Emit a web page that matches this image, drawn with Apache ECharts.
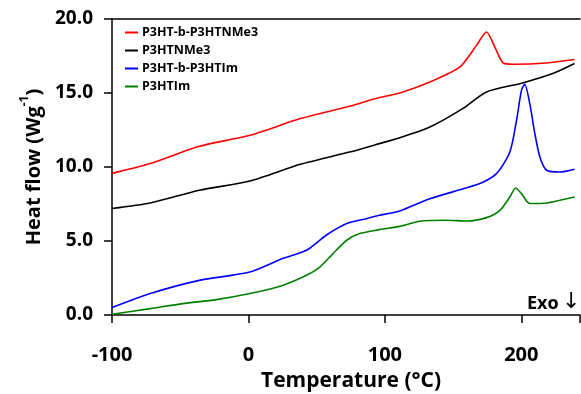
<!DOCTYPE html>
<html>
<head>
<meta charset="utf-8">
<script src="https://cdn.jsdelivr.net/npm/echarts@6/dist/echarts.min.js"></script>
<style>
  html, body { margin: 0; padding: 0; background: #fff; }
  #chart { width: 581px; height: 394px; }
</style>
</head>
<body>
<div id="chart"></div>
<script>
// 图例名称
const seriesNames = ['P3HT-b-P3HTNMe3', 'P3HTNMe3', 'P3HT-b-P3HTIm', 'P3HTIm'];

// [temperature (°C), heat flow (W/g)]
const redData = [
  [-100, 9.57], [-72, 10.23], [-36, 11.4], [1, 12.14], [38, 13.27], [74, 14.1],
  [96, 14.69], [111, 15.0], [133, 15.74], [155, 16.76], [167, 18.2], [174.5, 19.12],
  [180.6, 18.1], [186.7, 17.03], [194, 16.94], [218.5, 17.03], [239, 17.26]
];
const blackData = [
  [-100, 7.2], [-72, 7.57], [-36, 8.43], [1, 9.05], [38, 10.18], [74, 11.01],
  [96, 11.58], [111, 11.98], [133, 12.7], [157, 13.94], [174.5, 15.07],
  [201, 15.68], [223, 16.31], [239, 16.99]
];
const blueData = [
  [-100, 0.5], [-72, 1.45], [-36, 2.34], [1, 2.9], [25, 3.81], [42.5, 4.37],
  [57, 5.39], [72, 6.18], [86.5, 6.51], [96, 6.74], [111, 7.03], [133, 7.86],
  [169.6, 8.88], [181.8, 9.55], [191.6, 11.01], [196.5, 13.16], [200.1, 15.18],
  [202.5, 15.59], [206.2, 14.28], [209.9, 12.26], [213.6, 10.68], [218.5, 9.78],
  [228.2, 9.66], [239, 9.85]
];
const greenData = [
  [-100, 0.05], [-72, 0.43], [-48, 0.77], [-23.5, 1.04], [1, 1.45], [25, 2.0],
  [42.5, 2.68], [52.3, 3.24], [62, 4.15], [72, 5.05], [81.5, 5.5], [96, 5.77],
  [111, 5.99], [125.6, 6.33], [145, 6.4], [160, 6.35], [174.5, 6.58], [184.3, 7.07],
  [191.6, 7.97], [195.8, 8.58], [200.1, 8.2], [206.2, 7.53], [218.5, 7.57],
  [228.2, 7.75], [239, 7.97]
];

const xTicks = [-100, 0, 100, 200];

const colors = ['#ff0000', '#000000', '#0000ff', '#008000'];
const allData = [redData, blackData, blueData, greenData];
const FONT = 'Open Sans';

const chart = echarts.init(document.getElementById('chart'));
var option = {
  animation: false,
  grid: { left: 112, right: 1, top: 19, bottom: 79, outerBoundsMode: 'none', containLabel: false },
  legend: {
    orient: 'vertical',
    left: 120,
    top: 21,
    icon: 'rect',
    itemWidth: 13,
    itemHeight: 2,
    itemGap: 5,
    data: seriesNames,
    textStyle: { fontFamily: FONT, fontWeight: 'bold', fontSize: 12.5, color: '#000', padding: [0, 0, 0, -1] }
  },
  xAxis: [{
    type: 'value',
    min: -100,
    max: 243,
    interval: 100,
    name: 'Temperature (°C)',
    nameLocation: 'middle',
    nameGap: 56,
    nameTextStyle: { fontFamily: FONT, fontWeight: 'bold', fontSize: 21, color: '#000', padding: [0, 0, 0, 10] },
    axisLine: { lineStyle: { color: '#000', width: 1.5 } },
    axisTick: { length: 8, lineStyle: { color: '#000', width: 1.5 } },
    axisLabel: {
      margin: 30,
      fontFamily: FONT, fontWeight: 'bold', fontSize: 20, color: '#000',
      customValues: xTicks
    },
    splitLine: { show: false }
  }, {
    type: 'value',
    position: 'top',
    min: -100,
    max: 243,
    axisLine: { show: true, lineStyle: { color: '#000', width: 1.5 } },
    axisTick: { show: false },
    axisLabel: { show: false },
    splitLine: { show: false }
  }],
  yAxis: {
    type: 'value',
    min: 0,
    max: 20,
    interval: 5,
    name: '{t|Heat flow (Wg}{s|-1}{t|)}',
    nameLocation: 'middle',
    nameRotate: 90,
    nameGap: 72,
    nameTextStyle: {
      align: 'center',
      verticalAlign: 'middle',
      rich: {
        t: { fontFamily: FONT, fontWeight: 'bold', fontSize: 20, color: '#000', lineHeight: 26, verticalAlign: 'bottom' },
        s: { fontFamily: FONT, fontWeight: 'bold', fontSize: 12, color: '#000', lineHeight: 26, verticalAlign: 'top' }
      }
    },
    axisLine: { show: true, onZero: false, lineStyle: { color: '#000', width: 1.5 } },
    axisTick: { show: true, length: 8, lineStyle: { color: '#000', width: 1.5 } },
    axisLabel: {
      margin: 19,
      fontFamily: FONT, fontWeight: 'bold', fontSize: 19, color: '#000',
      formatter: v => v.toFixed(1)
    },
    splitLine: { show: false }
  },
  graphic: [{
    type: 'text',
    left: 527,
    top: 291,
    style: {
      text: '{e|Exo} {a|↓}',
      rich: {
        e: { fontFamily: FONT, fontWeight: 'bold', fontSize: 18, fill: '#000', lineHeight: 24, verticalAlign: 'bottom' },
        a: { fontFamily: 'DejaVu Sans', fontSize: 22, fill: '#000', lineHeight: 24, verticalAlign: 'bottom' }
      }
    }
  }],
  series: seriesNames.map((name, i) => ({
    name: name,
    type: 'line',
    data: allData[i],
    symbol: 'none',
    smooth: 0.25,
    color: colors[i],
    lineStyle: { width: 1.6, color: colors[i] }
  }))
};
chart.setOption(option);
</script>
</body>
</html>
